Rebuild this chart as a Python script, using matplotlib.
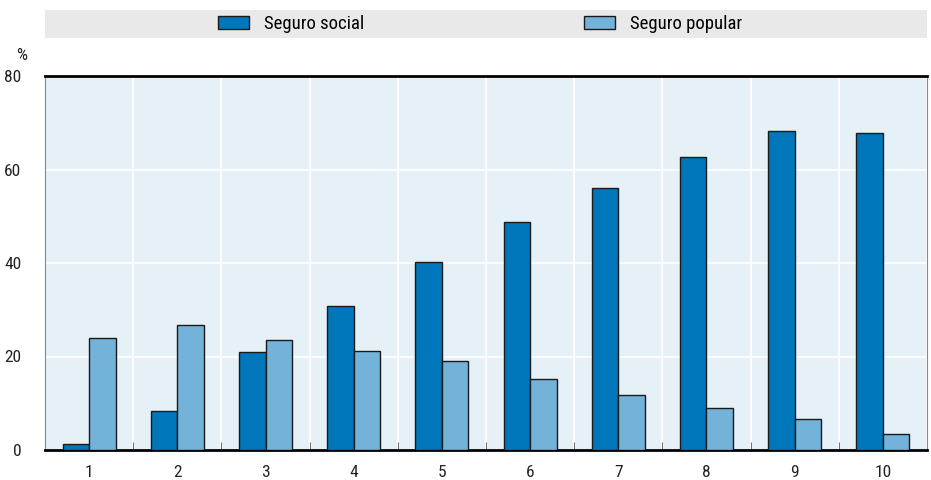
import matplotlib.pyplot as plt
import numpy as np
from matplotlib.patches import Rectangle, Patch

plt.rcParams['font.family'] = ['Roboto Condensed', 'DejaVu Sans']

# 데이터
categories = ["1", "2", "3", "4", "5", "6", "7", "8", "9", "10"]
seguro_social = [1.2, 8.4, 21.0, 30.8, 40.2, 48.8, 56.0, 62.6, 68.2, 67.9]
seguro_popular = [24.0, 26.7, 23.5, 21.2, 19.0, 15.2, 11.8, 9.0, 6.7, 3.4]

c_social = "#0077bb"
c_popular = "#74b3d9"

fig = plt.figure(figsize=(9.31, 4.8), dpi=100)
ax = fig.add_axes([45 / 931, 30 / 480, 882 / 931, 374 / 480])
ax.set_facecolor("#e6f0f7")

x = np.arange(len(categories))
w = 0.3
ax.bar(x - w / 2, seguro_social, w, color=c_social, edgecolor="#1a1a1a", linewidth=1, zorder=3)
ax.bar(x + w / 2, seguro_popular, w, color=c_popular, edgecolor="#1a1a1a", linewidth=1, zorder=3)

ax.set_xlim(-0.5, len(categories) - 0.5)
ax.set_ylim(0, 80)
ax.set_yticks([0, 20, 40, 60, 80])
ax.set_xticks(x)
ax.set_xticklabels(categories)
ax.set_xticks(np.arange(-0.5, len(categories)), minor=True)
ax.tick_params(axis="x", which="major", length=0, pad=11, labelsize=12.5, colors="#222222")
ax.tick_params(axis="x", which="minor", length=6, direction="in", color="#555555")
ax.tick_params(axis="y", length=0, pad=17, labelsize=12.5, colors="#222222")

ax.grid(axis="y", color="white", linewidth=1.2, zorder=0)
ax.grid(axis="x", which="minor", color="white", linewidth=1.2, zorder=0)

for s in ["top", "bottom"]:
    ax.spines[s].set_color("black")
    ax.spines[s].set_linewidth(2)
for s in ["left", "right"]:
    ax.spines[s].set_color("#888888")
    ax.spines[s].set_linewidth(0.8)

ax.text(-0.026, 1.035, "%", transform=ax.transAxes, ha="center", va="bottom",
        fontsize=12.5, color="#222222")

# 범례 배경
fig.patches.append(Rectangle((45 / 931, 1 - 38 / 480), 882 / 931, 28 / 480,
                             transform=fig.transFigure, facecolor="#e9e9e9",
                             edgecolor="none", zorder=0))
handles = [Patch(facecolor=c_social, edgecolor="#1a1a1a", label="Seguro social"),
           Patch(facecolor=c_popular, edgecolor="#1a1a1a", label="Seguro popular")]
fig.legend(handles=handles, loc="center", bbox_to_anchor=(0.5156, 1 - 24 / 480),
           ncol=2, frameon=False, fontsize=13.5, columnspacing=11.7,
           handlelength=1.65, handleheight=0.75, handletextpad=0.8)

fig.savefig("out.png", dpi=100)
